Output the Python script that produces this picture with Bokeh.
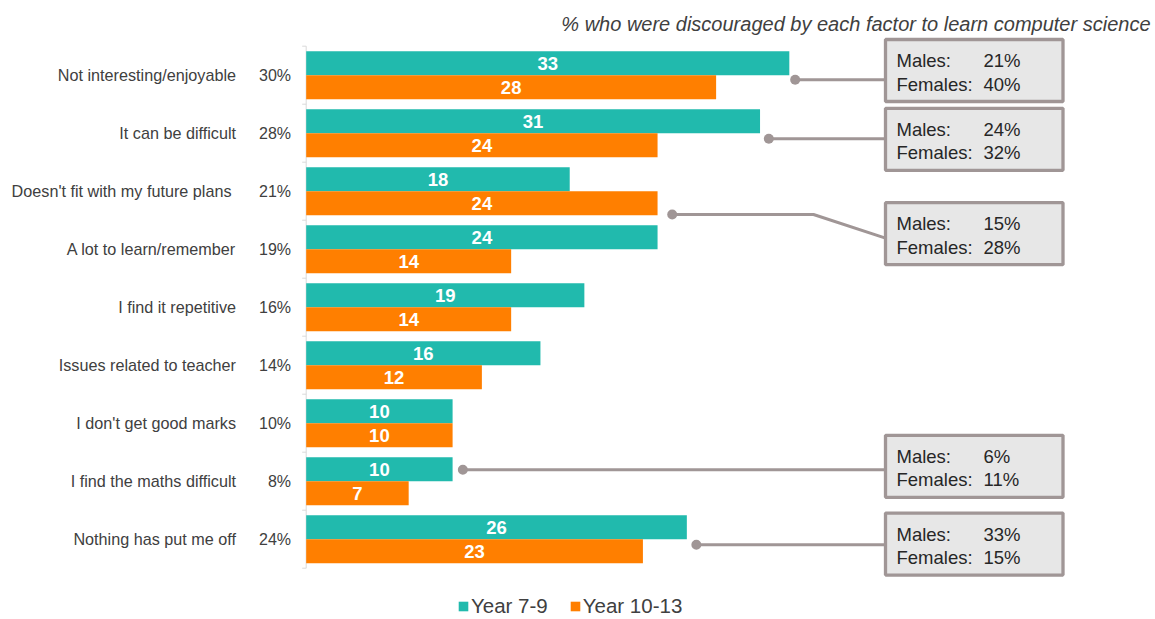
from bokeh.plotting import figure
from bokeh.models import Range1d, Legend, LegendItem, ColumnDataSource
from bokeh.core.properties import value
from bokeh.embed import file_html
from bokeh.resources import INLINE

# ---------------- data ----------------
categories = [
    "Not interesting/enjoyable",
    "It can be difficult",
    "Doesn't fit with my future  plans",
    "A lot to learn/remember",
    "I find it repetitive",
    "Issues related to teacher",
    "I don't get good marks",
    "I find the maths difficult",
    "Nothing has put me off",
]
overall_pct = [30, 28, 21, 19, 16, 14, 10, 8, 24]
year_7_9 = [33, 31, 18, 24, 19, 16, 10, 10, 26]
year_10_13 = [28, 24, 24, 14, 14, 12, 10, 7, 23]
series_names = ["Year 7-9", "Year 10-13"]

callout_rows = [0, 1, 2, 7, 8]
males_pct = [21, 24, 15, 6, 33]
females_pct = [40, 32, 28, 11, 15]

title_text = "% who were discouraged by each factor to learn computer science"

# ---------------- style / layout ----------------
TEAL = "#21BAAD"
ORANGE = "#FF7F00"
CONNECT = "#A09696"
BOX_FILL = "#E7E7E7"
TEXT = "#404040"
BOX_TEXT = "#262626"
AXIS = "#D9D9D9"
FONT = value("Liberation Sans")

W, H = 1154, 618
PX_X = 14.64      # pixels per percentage point
PX_Y = 58.0       # pixels per category slot
ORIGIN_X = 305.7  # canvas x of value 0
ORIGIN_Y = 74.7   # canvas y of first category centre


def X(px):
    return (px - ORIGIN_X) / PX_X


def Y(py):
    return (py - ORIGIN_Y) / PX_Y


def dy(px):
    return px / PX_Y


p = figure(
    width=W, height=H,
    x_range=Range1d(X(0), X(W)),
    y_range=Range1d(Y(H), Y(0)),
    x_axis_location=None, y_axis_location=None,
    title=None, toolbar_location=None, output_backend="svg",
    min_border=0, outline_line_color=None,
    background_fill_color="white", border_fill_color="white",
)
p.grid.visible = False

n = len(categories)
rows = list(range(n))
src = ColumnDataSource(dict(
    cat=categories,
    y=rows,
    y79=[r - dy(12) for r in rows],
    y1013=[r + dy(12) for r in rows],
    v79=year_7_9,
    v1013=year_10_13,
    m79=[v / 2 for v in year_7_9],
    m1013=[v / 2 for v in year_10_13],
    t79=[str(v) for v in year_7_9],
    t1013=[str(v) for v in year_10_13],
    pct=[f"{v}%" for v in overall_pct],
))

# axis line with ticks between categories
seps = [r - 0.5 for r in rows] + [n - 0.5]
p.segment(x0=0, y0=-0.5, x1=0, y1=n - 0.5, line_color=AXIS, line_width=1)
p.segment(x0=[-4 / PX_X] * len(seps), y0=seps, x1=[0] * len(seps), y1=seps,
          line_color=AXIS, line_width=1)

r1 = p.hbar(y="y79", left=0, right="v79", height=dy(24), fill_color=TEAL,
            line_color=None, source=src)
r2 = p.hbar(y="y1013", left=0, right="v1013", height=dy(24), fill_color=ORANGE,
            line_color=None, source=src)

p.text(x="m79", y="y79", text="t79", source=src, text_color="white",
       text_font=FONT, text_font_style="bold", text_font_size="18.5px",
       text_align="center", text_baseline="middle")
p.text(x="m1013", y="y1013", text="t1013", source=src, text_color="white",
       text_font=FONT, text_font_style="bold", text_font_size="18.5px",
       text_align="center", text_baseline="middle")

p.text(x=X(235.5), y="y", text="cat", source=src, text_color=TEXT,
       text_font=FONT, text_font_size="16.2px", text_align="right",
       text_baseline="middle")
p.text(x=X(290.5), y="y", text="pct", source=src, text_color=TEXT,
       text_font=FONT, text_font_size="16px", text_align="right",
       text_baseline="middle")

# title
p.text(x=[X(1150)], y=[Y(23)], text=[title_text], text_color=TEXT,
       text_font=FONT, text_font_style="italic", text_font_size="20px",
       text_align="right", text_baseline="middle")

# ---------------- callouts ----------------
BOX_CY = [Y(70.0), Y(138.8), Y(233.2), Y(465.8), Y(543.6)]
DOT_DX = [0.4, 0.6, 1.0, 0.7, 0.65]
DOT_PY = [4.6, 5.6, 23.3, -11.4, 5.6]
ELBOW = [False, False, True, False, False]
BOX_L, BOX_R = X(885.0), X(1062.5)
BOX_HALF = dy(31.0)

xs, ys, dxs, dys = [], [], [], []
for k, r in enumerate(callout_rows):
    dot_x = max(year_7_9[r], year_10_13[r]) + DOT_DX[k]
    dot_y = r + dy(DOT_PY[k])
    dxs.append(dot_x)
    dys.append(dot_y)
    if ELBOW[k]:
        xs.append([dot_x, X(813), BOX_L])
        ys.append([dot_y, dot_y, BOX_CY[k] + dy(4.5)])
    else:
        xs.append([dot_x, BOX_L])
        ys.append([dot_y, dot_y])

p.multi_line(xs=xs, ys=ys, line_color=CONNECT, line_width=3)
p.scatter(x=dxs, y=dys, size=10, fill_color=CONNECT, line_color=None)
p.quad(left=[BOX_L] * len(BOX_CY), right=[BOX_R] * len(BOX_CY),
       top=[c - BOX_HALF for c in BOX_CY], bottom=[c + BOX_HALF for c in BOX_CY],
       fill_color=BOX_FILL, line_color=CONNECT, line_width=3.3)

m_y = [c - dy(10) for c in BOX_CY]
f_y = [c + dy(13.5) for c in BOX_CY]
p.text(x=[X(896)] * len(BOX_CY), y=m_y, text=["Males:"] * len(BOX_CY),
       text_color=BOX_TEXT, text_font=FONT, text_font_size="18.5px",
       text_align="left", text_baseline="middle")
p.text(x=[X(896)] * len(BOX_CY), y=f_y, text=["Females:"] * len(BOX_CY),
       text_color=BOX_TEXT, text_font=FONT, text_font_size="18.5px",
       text_align="left", text_baseline="middle")
p.text(x=[X(983)] * len(BOX_CY), y=m_y, text=[f"{v}%" for v in males_pct],
       text_color=BOX_TEXT, text_font=FONT, text_font_size="18.5px",
       text_align="left", text_baseline="middle")
p.text(x=[X(983)] * len(BOX_CY), y=f_y, text=[f"{v}%" for v in females_pct],
       text_color=BOX_TEXT, text_font=FONT, text_font_size="18.5px",
       text_align="left", text_baseline="middle")

# ---------------- legend ----------------
legend = Legend(
    items=[LegendItem(label=series_names[0], renderers=[r1]),
           LegendItem(label=series_names[1], renderers=[r2])],
    orientation="horizontal", location=(457, 0),
    glyph_width=12, glyph_height=12,
    label_text_font="Liberation Sans", label_text_font_size="20.5px",
    label_text_color=TEXT, label_standoff=2, spacing=21,
    padding=0, margin=0, border_line_color=None, background_fill_alpha=0,
)
p.add_layout(legend)

open("out.html", "w").write(file_html(p, INLINE))
